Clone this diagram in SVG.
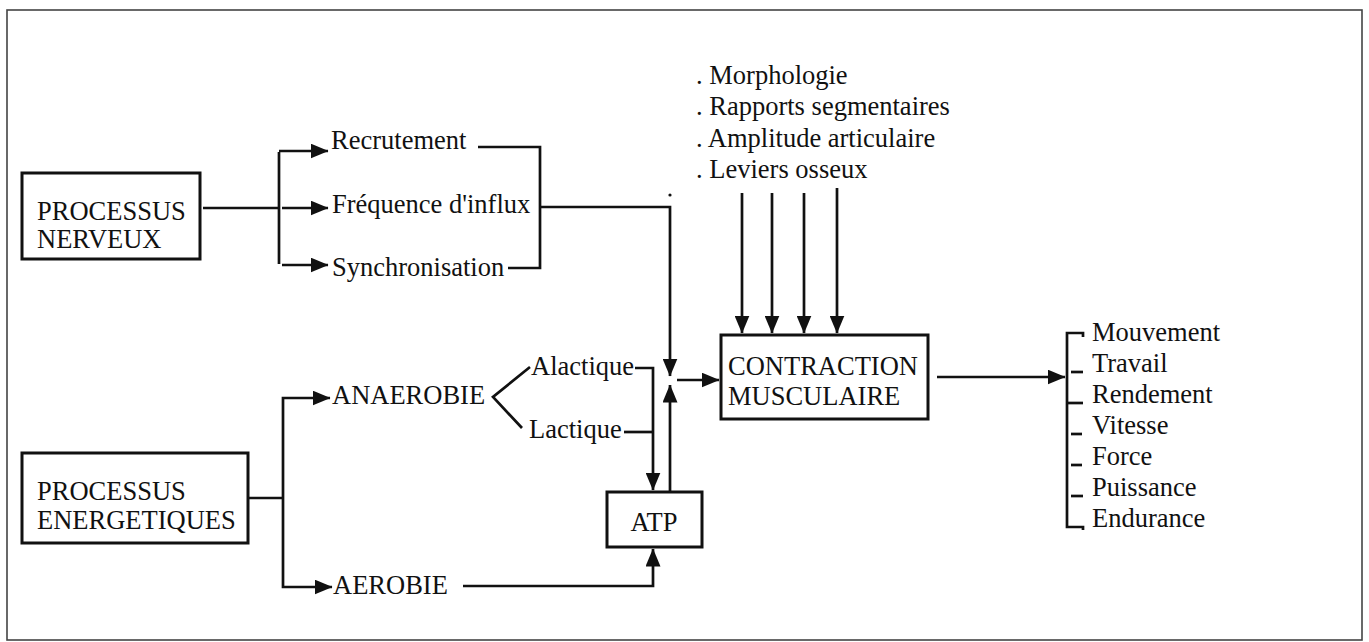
<svg xmlns="http://www.w3.org/2000/svg" width="1369" height="642" viewBox="0 0 1369 642">
  <defs>
    <marker id="arrow" viewBox="0 0 18 15" markerWidth="18" markerHeight="15" refX="17.5" refY="7.5" orient="auto" markerUnits="userSpaceOnUse">
      <path d="M0,0 L18,7.5 L0,15 z" fill="#111"/>
    </marker>
  </defs>
  <style>
    text { font-family: "Liberation Serif", "Times New Roman", serif; font-size: 26.5px; fill: #111; }
    .box { fill: none; stroke: #111; stroke-width: 3; }
    .ln { fill: none; stroke: #111; stroke-width: 2.7; }
    .arr { fill: none; stroke: #111; stroke-width: 2.7; marker-end: url(#arrow); }
    .frame { fill: none; stroke: #444; stroke-width: 1.6; }
  </style>
  <rect width="1369" height="642" fill="#fff"/>
  <rect class="frame" x="7" y="10" width="1355" height="630"/>

  <g id="processus-nerveux">
    <rect class="box" x="22" y="173" width="178" height="86"/>
    <text x="37" y="220">PROCESSUS</text>
    <text x="37" y="248">NERVEUX</text>
  </g>
  <g id="recrutement"><text x="331" y="149">Recrutement</text></g>
  <g id="frequence"><text x="332" y="213">Fréquence d'influx</text></g>
  <g id="synchronisation"><text x="332" y="276">Synchronisation</text></g>

  <g id="facteurs">
    <text x="696" y="84">. Morphologie</text>
    <text x="696" y="115">. Rapports segmentaires</text>
    <text x="696" y="147">. Amplitude articulaire</text>
    <text x="696" y="178">. Leviers osseux</text>
  </g>

  <g id="processus-energetiques">
    <rect class="box" x="22" y="453" width="226" height="90"/>
    <text x="37" y="500">PROCESSUS</text>
    <text x="37" y="529">ENERGETIQUES</text>
  </g>
  <g id="anaerobie"><text x="332" y="404">ANAEROBIE</text></g>
  <g id="aerobie"><text x="333" y="594">AEROBIE</text></g>
  <g id="alactique"><text x="531" y="375">Alactique</text></g>
  <g id="lactique"><text x="529" y="438">Lactique</text></g>

  <g id="atp">
    <rect class="box" x="607" y="492" width="95" height="55"/>
    <text x="654" y="531" text-anchor="middle">ATP</text>
  </g>

  <g id="contraction">
    <rect class="box" x="721" y="335" width="207" height="84"/>
    <text x="728" y="375">CONTRACTION</text>
    <text x="728" y="405">MUSCULAIRE</text>
  </g>

  <g id="effets">
    <text x="1092" y="341">Mouvement</text>
    <text x="1092" y="372">Travail</text>
    <text x="1092" y="403">Rendement</text>
    <text x="1092" y="434">Vitesse</text>
    <text x="1092" y="465">Force</text>
    <text x="1092" y="496">Puissance</text>
    <text x="1092" y="527">Endurance</text>
  </g>

  <g id="connectors">
    <!-- nervous process fan-out -->
    <line class="ln" x1="203" y1="208" x2="279" y2="208"/>
    <line class="ln" x1="279" y1="152" x2="279" y2="264"/>
    <line class="arr" x1="279" y1="151" x2="328" y2="151"/>
    <line class="arr" x1="282" y1="208" x2="328" y2="208"/>
    <line class="arr" x1="282" y1="265" x2="328" y2="265"/>
    <!-- nervous factors merge -->
    <polyline class="ln" points="478,147 540,147 540,268 508,268"/>
    <polyline class="arr" points="540,207 670,207 670,376"/>
    <circle cx="670" cy="195" r="1.6" fill="#111"/>
    <!-- morphological factors -->
    <line class="arr" x1="742" y1="193" x2="742" y2="333"/>
    <line class="arr" x1="772" y1="193" x2="772" y2="333"/>
    <line class="arr" x1="804" y1="193" x2="804" y2="333"/>
    <line class="arr" x1="837" y1="188" x2="837" y2="333"/>
    <!-- energy process fan-out -->
    <line class="ln" x1="248" y1="498" x2="283" y2="498"/>
    <polyline class="arr" points="283,498 283,398 330,398"/>
    <polyline class="arr" points="283,498 283,587 332,587"/>
    <polyline class="ln" points="530,367 493,397 522,428"/>
    <!-- anaerobic paths to ATP -->
    <polyline class="arr" points="635,368 653,368 653,490"/>
    <line class="ln" x1="624" y1="432" x2="653" y2="432"/>
    <polyline class="arr" points="463,586 653,586 653,549"/>
    <!-- ATP up to contraction -->
    <line class="arr" x1="670" y1="491" x2="670" y2="385"/>
    <line class="arr" x1="677" y1="380" x2="719" y2="380"/>
    <!-- output -->
    <line class="arr" x1="937" y1="377" x2="1065" y2="377"/>
    <polyline class="ln" points="1083,337 1083,333 1067,333 1067,527 1083,527 1083,530"/>
    <line class="ln" x1="1071" y1="372" x2="1083" y2="372"/>
    <line class="ln" x1="1067" y1="403" x2="1083" y2="403"/>
    <line class="ln" x1="1071" y1="434" x2="1082" y2="434"/>
    <line class="ln" x1="1071" y1="465" x2="1082" y2="465"/>
    <line class="ln" x1="1071" y1="496" x2="1083" y2="496"/>
  </g>
</svg>
